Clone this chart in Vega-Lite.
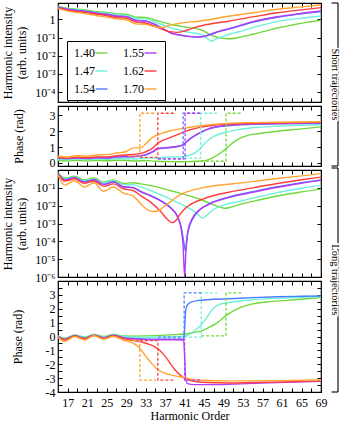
{
"$schema": "https://vega.github.io/schema/vega-lite/v6.json",
"padding": {"left": 1, "top": 1, "right": 3, "bottom": 2},
"config": {
  "font": "Liberation Serif",
  "view": {"stroke": "black", "strokeWidth": 1.2},
  "axis": {"labelFont": "Liberation Serif", "titleFont": "Liberation Serif", "labelFontSize": 12, "titleFontSize": 12, "titleFontWeight": "normal", "labelColor": "black", "titleColor": "black", "tickColor": "black", "tickWidth": 1, "domain": false, "grid": false, "tickSize": -4, "labelOverlap": false, "labelFlush": false, "labelBound": false, "labelPadding": 7}
},
"datasets": {
"a": [
{"s":"1.40","h":15,"v":5.25},{"s":"1.40","h":17,"v":3.98},{"s":"1.40","h":19,"v":3.55},{"s":"1.40","h":21,"v":3.16},{"s":"1.40","h":23,"v":2.63},{"s":"1.40","h":25,"v":2.4},{"s":"1.40","h":27,"v":2.0},{"s":"1.40","h":29,"v":1.91},{"s":"1.40","h":31,"v":1.32},{"s":"1.40","h":33,"v":1.26},{"s":"1.40","h":35,"v":0.891},{"s":"1.40","h":37,"v":0.631},{"s":"1.40","h":39,"v":0.468},{"s":"1.40","h":41,"v":0.38},{"s":"1.40","h":43,"v":0.316},{"s":"1.40","h":44.2,"v":0.275},{"s":"1.40","h":45.3,"v":0.2},{"s":"1.40","h":46.5,"v":0.132},{"s":"1.40","h":48,"v":0.1},{"s":"1.40","h":49.3,"v":0.0871},{"s":"1.40","h":50.3,"v":0.0851},{"s":"1.40","h":52,"v":0.1},{"s":"1.40","h":55,"v":0.151},{"s":"1.40","h":58,"v":0.24},{"s":"1.40","h":60,"v":0.331},{"s":"1.40","h":63,"v":0.479},{"s":"1.40","h":66,"v":0.676},{"s":"1.40","h":69,"v":0.891},
{"s":"1.47","h":15,"v":4.79},{"s":"1.47","h":17,"v":3.72},{"s":"1.47","h":19,"v":3.31},{"s":"1.47","h":21,"v":2.88},{"s":"1.47","h":23,"v":2.4},{"s":"1.47","h":25,"v":2.14},{"s":"1.47","h":27,"v":1.74},{"s":"1.47","h":29,"v":1.66},{"s":"1.47","h":31,"v":1.1},{"s":"1.47","h":33,"v":1.05},{"s":"1.47","h":35,"v":0.708},{"s":"1.47","h":37,"v":0.437},{"s":"1.47","h":38,"v":0.347},{"s":"1.47","h":40,"v":0.251},{"s":"1.47","h":42,"v":0.191},{"s":"1.47","h":44.2,"v":0.151},{"s":"1.47","h":45.5,"v":0.0955},{"s":"1.47","h":46.5,"v":0.0646},{"s":"1.47","h":47.5,"v":0.0832},{"s":"1.47","h":49,"v":0.12},{"s":"1.47","h":50.3,"v":0.155},{"s":"1.47","h":52,"v":0.2},{"s":"1.47","h":55,"v":0.347},{"s":"1.47","h":60,"v":0.741},{"s":"1.47","h":65,"v":1.15},{"s":"1.47","h":69,"v":1.51},
{"s":"1.54","h":15,"v":4.68},{"s":"1.54","h":17,"v":3.55},{"s":"1.54","h":19,"v":3.09},{"s":"1.54","h":21,"v":2.69},{"s":"1.54","h":23,"v":2.19},{"s":"1.54","h":25,"v":1.91},{"s":"1.54","h":27,"v":1.51},{"s":"1.54","h":29,"v":1.41},{"s":"1.54","h":31,"v":0.891},{"s":"1.54","h":33,"v":0.813},{"s":"1.54","h":35,"v":0.525},{"s":"1.54","h":37,"v":0.263},{"s":"1.54","h":38,"v":0.191},{"s":"1.54","h":40,"v":0.138},{"s":"1.54","h":42,"v":0.115},{"s":"1.54","h":44,"v":0.107},{"s":"1.54","h":45,"v":0.115},{"s":"1.54","h":46.5,"v":0.151},{"s":"1.54","h":48,"v":0.209},{"s":"1.54","h":50.3,"v":0.302},{"s":"1.54","h":55,"v":0.692},{"s":"1.54","h":60,"v":1.29},{"s":"1.54","h":65,"v":2.0},{"s":"1.54","h":69,"v":2.69},
{"s":"1.55","h":15,"v":4.57},{"s":"1.55","h":17,"v":3.47},{"s":"1.55","h":19,"v":3.02},{"s":"1.55","h":21,"v":2.63},{"s":"1.55","h":23,"v":2.14},{"s":"1.55","h":25,"v":1.86},{"s":"1.55","h":27,"v":1.48},{"s":"1.55","h":29,"v":1.38},{"s":"1.55","h":31,"v":0.871},{"s":"1.55","h":33,"v":0.794},{"s":"1.55","h":35,"v":0.501},{"s":"1.55","h":37,"v":0.251},{"s":"1.55","h":38,"v":0.182},{"s":"1.55","h":40,"v":0.135},{"s":"1.55","h":42,"v":0.112},{"s":"1.55","h":44,"v":0.107},{"s":"1.55","h":45,"v":0.117},{"s":"1.55","h":46.5,"v":0.158},{"s":"1.55","h":48,"v":0.219},{"s":"1.55","h":50.3,"v":0.316},{"s":"1.55","h":55,"v":0.741},{"s":"1.55","h":60,"v":1.38},{"s":"1.55","h":65,"v":2.14},{"s":"1.55","h":69,"v":2.88},
{"s":"1.62","h":15,"v":4.27},{"s":"1.62","h":17,"v":3.16},{"s":"1.62","h":19,"v":2.69},{"s":"1.62","h":21,"v":2.34},{"s":"1.62","h":23,"v":1.91},{"s":"1.62","h":25,"v":1.58},{"s":"1.62","h":27,"v":1.26},{"s":"1.62","h":29,"v":1.15},{"s":"1.62","h":31,"v":0.708},{"s":"1.62","h":33,"v":0.631},{"s":"1.62","h":35,"v":0.398},{"s":"1.62","h":37,"v":0.251},{"s":"1.62","h":38,"v":0.209},{"s":"1.62","h":39.5,"v":0.191},{"s":"1.62","h":41,"v":0.229},{"s":"1.62","h":43,"v":0.347},{"s":"1.62","h":44.2,"v":0.427},{"s":"1.62","h":47,"v":0.603},{"s":"1.62","h":50.3,"v":0.813},{"s":"1.62","h":55,"v":1.35},{"s":"1.62","h":60,"v":2.29},{"s":"1.62","h":65,"v":3.31},{"s":"1.62","h":69,"v":4.37},
{"s":"1.70","h":15,"v":3.89},{"s":"1.70","h":17,"v":2.82},{"s":"1.70","h":19,"v":2.34},{"s":"1.70","h":21,"v":2.0},{"s":"1.70","h":23,"v":1.58},{"s":"1.70","h":25,"v":1.32},{"s":"1.70","h":27,"v":1.05},{"s":"1.70","h":29,"v":0.933},{"s":"1.70","h":31,"v":0.562},{"s":"1.70","h":33,"v":0.525},{"s":"1.70","h":35,"v":0.38},{"s":"1.70","h":36.5,"v":0.355},{"s":"1.70","h":38,"v":0.479},{"s":"1.70","h":40,"v":0.603},{"s":"1.70","h":44.2,"v":0.813},{"s":"1.70","h":50.3,"v":1.51},{"s":"1.70","h":55,"v":2.29},{"s":"1.70","h":60,"v":3.55},{"s":"1.70","h":65,"v":4.79},{"s":"1.70","h":69,"v":6.17}
],
"b": [
{"s":"1.40","h":15,"v":0.15},{"s":"1.40","h":17,"v":0.12},{"s":"1.40","h":19,"v":0.16},{"s":"1.40","h":21,"v":0.12},{"s":"1.40","h":23,"v":0.16},{"s":"1.40","h":25,"v":0.13},{"s":"1.40","h":27,"v":0.16},{"s":"1.40","h":29,"v":0.15},{"s":"1.40","h":31,"v":0.12},{"s":"1.40","h":33,"v":0.15},{"s":"1.40","h":35,"v":0.1},{"s":"1.40","h":38,"v":0.08},{"s":"1.40","h":41,"v":0.07},{"s":"1.40","h":44,"v":0.1},{"s":"1.40","h":46,"v":0.2},{"s":"1.40","h":47.5,"v":0.45},{"s":"1.40","h":48.7,"v":0.7},{"s":"1.40","h":49.7,"v":0.95},{"s":"1.40","h":51,"v":1.3},{"s":"1.40","h":52.5,"v":1.58},{"s":"1.40","h":54,"v":1.74},{"s":"1.40","h":56,"v":1.84},{"s":"1.40","h":60,"v":2.0},{"s":"1.40","h":65,"v":2.15},{"s":"1.40","h":69,"v":2.28},
{"s":"1.47","h":15,"v":0.22},{"s":"1.47","h":17,"v":0.2},{"s":"1.47","h":19,"v":0.24},{"s":"1.47","h":21,"v":0.2},{"s":"1.47","h":23,"v":0.25},{"s":"1.47","h":25,"v":0.22},{"s":"1.47","h":27,"v":0.26},{"s":"1.47","h":29,"v":0.26},{"s":"1.47","h":31,"v":0.24},{"s":"1.47","h":33,"v":0.3},{"s":"1.47","h":35,"v":0.3},{"s":"1.47","h":38,"v":0.38},{"s":"1.47","h":40,"v":0.38},{"s":"1.47","h":42,"v":0.48},{"s":"1.47","h":43.3,"v":0.66},{"s":"1.47","h":44.3,"v":0.95},{"s":"1.47","h":45.5,"v":1.35},{"s":"1.47","h":47,"v":1.68},{"s":"1.47","h":49.7,"v":1.95},{"s":"1.47","h":52,"v":2.1},{"s":"1.47","h":56,"v":2.25},{"s":"1.47","h":60,"v":2.32},{"s":"1.47","h":65,"v":2.38},{"s":"1.47","h":69,"v":2.42},
{"s":"1.54","h":15,"v":0.28},{"s":"1.54","h":17,"v":0.26},{"s":"1.54","h":19,"v":0.3},{"s":"1.54","h":21,"v":0.27},{"s":"1.54","h":23,"v":0.32},{"s":"1.54","h":25,"v":0.3},{"s":"1.54","h":27,"v":0.36},{"s":"1.54","h":29,"v":0.38},{"s":"1.54","h":31,"v":0.4},{"s":"1.54","h":33,"v":0.5},{"s":"1.54","h":34.5,"v":0.7},{"s":"1.54","h":35.5,"v":0.9},{"s":"1.54","h":37,"v":0.93},{"s":"1.54","h":39,"v":1.0},{"s":"1.54","h":40.5,"v":1.1},{"s":"1.54","h":41.5,"v":1.35},{"s":"1.54","h":42.5,"v":1.6},{"s":"1.54","h":44.2,"v":1.9},{"s":"1.54","h":46,"v":2.15},{"s":"1.54","h":49.7,"v":2.35},{"s":"1.54","h":55,"v":2.44},{"s":"1.54","h":60,"v":2.47},{"s":"1.54","h":69,"v":2.5},
{"s":"1.55","h":15,"v":0.3},{"s":"1.55","h":17,"v":0.28},{"s":"1.55","h":19,"v":0.32},{"s":"1.55","h":21,"v":0.29},{"s":"1.55","h":23,"v":0.34},{"s":"1.55","h":25,"v":0.32},{"s":"1.55","h":27,"v":0.38},{"s":"1.55","h":29,"v":0.4},{"s":"1.55","h":31,"v":0.42},{"s":"1.55","h":33,"v":0.52},{"s":"1.55","h":34.5,"v":0.72},{"s":"1.55","h":35.5,"v":0.92},{"s":"1.55","h":37,"v":0.95},{"s":"1.55","h":39,"v":1.02},{"s":"1.55","h":40.5,"v":1.12},{"s":"1.55","h":41.5,"v":1.37},{"s":"1.55","h":42.5,"v":1.62},{"s":"1.55","h":44.2,"v":1.92},{"s":"1.55","h":46,"v":2.17},{"s":"1.55","h":49.7,"v":2.37},{"s":"1.55","h":55,"v":2.46},{"s":"1.55","h":60,"v":2.49},{"s":"1.55","h":69,"v":2.52},
{"s":"1.62","h":15,"v":0.33},{"s":"1.62","h":17,"v":0.3},{"s":"1.62","h":19,"v":0.35},{"s":"1.62","h":21,"v":0.32},{"s":"1.62","h":23,"v":0.38},{"s":"1.62","h":25,"v":0.38},{"s":"1.62","h":27,"v":0.45},{"s":"1.62","h":29,"v":0.5},{"s":"1.62","h":31,"v":0.55},{"s":"1.62","h":33,"v":0.7},{"s":"1.62","h":34.5,"v":0.95},{"s":"1.62","h":35.5,"v":1.25},{"s":"1.62","h":36.5,"v":1.42},{"s":"1.62","h":38,"v":1.6},{"s":"1.62","h":40,"v":1.85},{"s":"1.62","h":42,"v":2.08},{"s":"1.62","h":44.2,"v":2.25},{"s":"1.62","h":47,"v":2.38},{"s":"1.62","h":49.7,"v":2.45},{"s":"1.62","h":55,"v":2.5},{"s":"1.62","h":60,"v":2.53},{"s":"1.62","h":69,"v":2.56},
{"s":"1.70","h":15,"v":0.42},{"s":"1.70","h":17,"v":0.38},{"s":"1.70","h":19,"v":0.45},{"s":"1.70","h":21,"v":0.42},{"s":"1.70","h":23,"v":0.5},{"s":"1.70","h":25,"v":0.52},{"s":"1.70","h":27,"v":0.62},{"s":"1.70","h":29,"v":0.72},{"s":"1.70","h":30.5,"v":0.95},{"s":"1.70","h":32,"v":0.95},{"s":"1.70","h":33,"v":1.2},{"s":"1.70","h":34,"v":1.5},{"s":"1.70","h":35,"v":1.72},{"s":"1.70","h":36.5,"v":1.88},{"s":"1.70","h":38,"v":2.03},{"s":"1.70","h":40,"v":2.15},{"s":"1.70","h":44.2,"v":2.35},{"s":"1.70","h":49.7,"v":2.5},{"s":"1.70","h":55,"v":2.55},{"s":"1.70","h":60,"v":2.57},{"s":"1.70","h":69,"v":2.6}
],
"bd": [
{"s":"1.40","i":1,"h":44.3,"v":0.1},{"s":"1.40","i":2,"h":49.5,"v":0.1},{"s":"1.40","i":3,"h":49.5,"v":3.1416},{"s":"1.40","i":4,"h":52.8,"v":3.1416},
{"s":"1.47","i":1,"h":40.9,"v":0.3},{"s":"1.47","i":2,"h":44.3,"v":0.3},{"s":"1.47","i":3,"h":44.3,"v":3.1416},{"s":"1.47","i":4,"h":47.6,"v":3.1416},
{"s":"1.54","i":1,"h":35.5,"v":0.25},{"s":"1.54","i":2,"h":40.7,"v":0.25},{"s":"1.54","i":3,"h":40.7,"v":3.1416},{"s":"1.54","i":4,"h":44.0,"v":3.1416},
{"s":"1.55","i":1,"h":35.5,"v":0.25},{"s":"1.55","i":2,"h":41.1,"v":0.25},{"s":"1.55","i":3,"h":41.1,"v":3.1416},{"s":"1.55","i":4,"h":44.4,"v":3.1416},
{"s":"1.62","i":1,"h":31.8,"v":0.35},{"s":"1.62","i":2,"h":35.5,"v":0.35},{"s":"1.62","i":3,"h":35.5,"v":3.1416},{"s":"1.62","i":4,"h":38.8,"v":3.1416},
{"s":"1.70","i":1,"h":29.5,"v":0.45},{"s":"1.70","i":2,"h":31.8,"v":0.45},{"s":"1.70","i":3,"h":31.8,"v":3.1416},{"s":"1.70","i":4,"h":35.1,"v":3.1416}
],
"c": [
{"s":"1.40","h":15,"v":0.708},{"s":"1.40","h":16.4,"v":0.355},{"s":"1.40","h":18.4,"v":0.447},{"s":"1.40","h":20.4,"v":0.282},{"s":"1.40","h":22.4,"v":0.355},{"s":"1.40","h":24.4,"v":0.214},{"s":"1.40","h":26.4,"v":0.275},{"s":"1.40","h":28.4,"v":0.178},{"s":"1.40","h":30.4,"v":0.191},{"s":"1.40","h":32,"v":0.166},{"s":"1.40","h":34,"v":0.132},{"s":"1.40","h":36,"v":0.1},{"s":"1.40","h":38,"v":0.0708},{"s":"1.40","h":40,"v":0.0501},{"s":"1.40","h":42,"v":0.0355},{"s":"1.40","h":44,"v":0.024},{"s":"1.40","h":46,"v":0.0141},{"s":"1.40","h":48,"v":0.0087},{"s":"1.40","h":49.3,"v":0.00708},{"s":"1.40","h":50.5,"v":0.00832},{"s":"1.40","h":52,"v":0.011},{"s":"1.40","h":55,"v":0.0174},{"s":"1.40","h":60,"v":0.0347},{"s":"1.40","h":65,"v":0.0589},{"s":"1.40","h":69,"v":0.0851},
{"s":"1.47","h":15,"v":0.661},{"s":"1.47","h":16.4,"v":0.316},{"s":"1.47","h":18.4,"v":0.398},{"s":"1.47","h":20.4,"v":0.251},{"s":"1.47","h":22.4,"v":0.316},{"s":"1.47","h":24.4,"v":0.191},{"s":"1.47","h":26.4,"v":0.251},{"s":"1.47","h":28.4,"v":0.151},{"s":"1.47","h":30.4,"v":0.151},{"s":"1.47","h":32,"v":0.112},{"s":"1.47","h":34,"v":0.0708},{"s":"1.47","h":36,"v":0.0417},{"s":"1.47","h":38,"v":0.024},{"s":"1.47","h":40,"v":0.0132},{"s":"1.47","h":42,"v":0.00708},{"s":"1.47","h":43.5,"v":0.0038},{"s":"1.47","h":44.7,"v":0.002},{"s":"1.47","h":45.7,"v":0.00316},{"s":"1.47","h":47,"v":0.00631},{"s":"1.47","h":49,"v":0.0107},{"s":"1.47","h":52,"v":0.017},{"s":"1.47","h":55,"v":0.0263},{"s":"1.47","h":60,"v":0.0537},{"s":"1.47","h":65,"v":0.0955},{"s":"1.47","h":69,"v":0.138},
{"s":"1.54","h":15,"v":0.646},{"s":"1.54","h":16.4,"v":0.288},{"s":"1.54","h":18.4,"v":0.372},{"s":"1.54","h":20.4,"v":0.219},{"s":"1.54","h":22.4,"v":0.288},{"s":"1.54","h":24.4,"v":0.158},{"s":"1.54","h":26.4,"v":0.219},{"s":"1.54","h":28.4,"v":0.117},{"s":"1.54","h":30.4,"v":0.105},{"s":"1.54","h":32,"v":0.0631},{"s":"1.54","h":34,"v":0.0372},{"s":"1.54","h":36,"v":0.02},{"s":"1.54","h":38,"v":0.00832},{"s":"1.54","h":39.5,"v":0.00263},{"s":"1.54","h":40.3,"v":0.000631},{"s":"1.54","h":40.8,"v":0.0001},{"s":"1.54","h":41.2,"v":0.0000282},{"s":"1.54","h":41.6,"v":0.000251},{"s":"1.54","h":42.2,"v":0.001},{"s":"1.54","h":43,"v":0.00251},{"s":"1.54","h":44,"v":0.00562},{"s":"1.54","h":46,"v":0.0126},{"s":"1.54","h":50,"v":0.0302},{"s":"1.54","h":55,"v":0.0603},{"s":"1.54","h":60,"v":0.115},{"s":"1.54","h":65,"v":0.195},{"s":"1.54","h":69,"v":0.282},
{"s":"1.55","h":15,"v":0.631},{"s":"1.55","h":16.4,"v":0.275},{"s":"1.55","h":18.4,"v":0.355},{"s":"1.55","h":20.4,"v":0.209},{"s":"1.55","h":22.4,"v":0.275},{"s":"1.55","h":24.4,"v":0.151},{"s":"1.55","h":26.4,"v":0.209},{"s":"1.55","h":28.4,"v":0.112},{"s":"1.55","h":30.4,"v":0.1},{"s":"1.55","h":32,"v":0.0603},{"s":"1.55","h":34,"v":0.0355},{"s":"1.55","h":36,"v":0.0191},{"s":"1.55","h":38,"v":0.00794},{"s":"1.55","h":39.5,"v":0.00251},{"s":"1.55","h":40.3,"v":0.000501},{"s":"1.55","h":40.7,"v":0.0000501},{"s":"1.55","h":41,"v":0.000001},{"s":"1.55","h":41.3,"v":0.0000501},{"s":"1.55","h":41.7,"v":0.000398},{"s":"1.55","h":42.5,"v":0.00178},{"s":"1.55","h":44,"v":0.00562},{"s":"1.55","h":46,"v":0.012},{"s":"1.55","h":50,"v":0.0282},{"s":"1.55","h":55,"v":0.0562},{"s":"1.55","h":60,"v":0.107},{"s":"1.55","h":65,"v":0.182},{"s":"1.55","h":69,"v":0.263},
{"s":"1.62","h":15,"v":0.603},{"s":"1.62","h":16.4,"v":0.24},{"s":"1.62","h":18.4,"v":0.316},{"s":"1.62","h":20.4,"v":0.178},{"s":"1.62","h":22.4,"v":0.24},{"s":"1.62","h":24.4,"v":0.12},{"s":"1.62","h":26.4,"v":0.166},{"s":"1.62","h":28.4,"v":0.0891},{"s":"1.62","h":30.4,"v":0.0708},{"s":"1.62","h":32,"v":0.0355},{"s":"1.62","h":34,"v":0.0158},{"s":"1.62","h":36,"v":0.00501},{"s":"1.62","h":37.5,"v":0.00166},{"s":"1.62","h":38.5,"v":0.00112},{"s":"1.62","h":39.3,"v":0.00158},{"s":"1.62","h":40,"v":0.00316},{"s":"1.62","h":41,"v":0.0066},{"s":"1.62","h":42,"v":0.0107},{"s":"1.62","h":45,"v":0.0251},{"s":"1.62","h":50,"v":0.0562},{"s":"1.62","h":55,"v":0.1},{"s":"1.62","h":60,"v":0.174},{"s":"1.62","h":65,"v":0.282},{"s":"1.62","h":69,"v":0.398},
{"s":"1.70","h":15,"v":0.525},{"s":"1.70","h":16.4,"v":0.141},{"s":"1.70","h":18.4,"v":0.251},{"s":"1.70","h":20.4,"v":0.112},{"s":"1.70","h":22.4,"v":0.191},{"s":"1.70","h":24.4,"v":0.0631},{"s":"1.70","h":26.4,"v":0.112},{"s":"1.70","h":28.4,"v":0.0501},{"s":"1.70","h":30.4,"v":0.0355},{"s":"1.70","h":32,"v":0.0126},{"s":"1.70","h":33.5,"v":0.00562},{"s":"1.70","h":34.5,"v":0.00468},{"s":"1.70","h":35.5,"v":0.00501},{"s":"1.70","h":37,"v":0.01},{"s":"1.70","h":38,"v":0.0158},{"s":"1.70","h":40,"v":0.0398},{"s":"1.70","h":42,"v":0.0661},{"s":"1.70","h":45,"v":0.105},{"s":"1.70","h":50,"v":0.158},{"s":"1.70","h":55,"v":0.224},{"s":"1.70","h":60,"v":0.331},{"s":"1.70","h":65,"v":0.468},{"s":"1.70","h":69,"v":0.631}
],
"d": [
{"s":"1.40","h":15,"v":0.05},{"s":"1.40","h":16.4,"v":-0.12},{"s":"1.40","h":18.4,"v":0.12},{"s":"1.40","h":20.4,"v":-0.05},{"s":"1.40","h":22.4,"v":0.15},{"s":"1.40","h":24.4,"v":0.0},{"s":"1.40","h":26.4,"v":0.15},{"s":"1.40","h":28.4,"v":0.04},{"s":"1.40","h":31,"v":0.03},{"s":"1.40","h":35,"v":0.06},{"s":"1.40","h":38,"v":0.12},{"s":"1.40","h":41,"v":0.18},{"s":"1.40","h":43,"v":0.3},{"s":"1.40","h":44.7,"v":0.43},{"s":"1.40","h":46,"v":0.65},{"s":"1.40","h":47.5,"v":0.95},{"s":"1.40","h":49.5,"v":1.5},{"s":"1.40","h":51,"v":1.85},{"s":"1.40","h":52.5,"v":2.1},{"s":"1.40","h":55,"v":2.35},{"s":"1.40","h":58,"v":2.5},{"s":"1.40","h":62,"v":2.6},{"s":"1.40","h":66,"v":2.72},{"s":"1.40","h":69,"v":2.8},
{"s":"1.47","h":15,"v":0.03},{"s":"1.47","h":16.4,"v":-0.15},{"s":"1.47","h":18.4,"v":0.1},{"s":"1.47","h":20.4,"v":-0.08},{"s":"1.47","h":22.4,"v":0.13},{"s":"1.47","h":24.4,"v":-0.03},{"s":"1.47","h":26.4,"v":0.13},{"s":"1.47","h":28.4,"v":0.0},{"s":"1.47","h":31,"v":-0.05},{"s":"1.47","h":35,"v":-0.05},{"s":"1.47","h":38,"v":-0.02},{"s":"1.47","h":41,"v":0.02},{"s":"1.47","h":42,"v":0.15},{"s":"1.47","h":43,"v":0.4},{"s":"1.47","h":44.4,"v":0.85},{"s":"1.47","h":45.5,"v":1.35},{"s":"1.47","h":46.8,"v":2.0},{"s":"1.47","h":48,"v":2.3},{"s":"1.47","h":50,"v":2.45},{"s":"1.47","h":55,"v":2.65},{"s":"1.47","h":60,"v":2.75},{"s":"1.47","h":65,"v":2.83},{"s":"1.47","h":69,"v":2.88},
{"s":"1.54","h":15,"v":0.0},{"s":"1.54","h":16.4,"v":-0.2},{"s":"1.54","h":18.4,"v":0.06},{"s":"1.54","h":20.4,"v":-0.13},{"s":"1.54","h":22.4,"v":0.1},{"s":"1.54","h":24.4,"v":-0.08},{"s":"1.54","h":26.4,"v":0.1},{"s":"1.54","h":28.4,"v":-0.08},{"s":"1.54","h":31,"v":-0.15},{"s":"1.54","h":35,"v":-0.2},{"s":"1.54","h":38,"v":-0.2},{"s":"1.54","h":40.8,"v":-0.2},{"s":"1.54","h":41,"v":0.5},{"s":"1.54","h":41.2,"v":1.8},{"s":"1.54","h":41.5,"v":2.25},{"s":"1.54","h":42.3,"v":2.48},{"s":"1.54","h":44,"v":2.6},{"s":"1.54","h":47,"v":2.68},{"s":"1.54","h":50,"v":2.72},{"s":"1.54","h":55,"v":2.8},{"s":"1.54","h":60,"v":2.86},{"s":"1.54","h":65,"v":2.9},{"s":"1.54","h":69,"v":2.92},
{"s":"1.55","h":15,"v":-0.02},{"s":"1.55","h":16.4,"v":-0.22},{"s":"1.55","h":18.4,"v":0.04},{"s":"1.55","h":20.4,"v":-0.15},{"s":"1.55","h":22.4,"v":0.08},{"s":"1.55","h":24.4,"v":-0.1},{"s":"1.55","h":26.4,"v":0.08},{"s":"1.55","h":28.4,"v":-0.1},{"s":"1.55","h":31,"v":-0.18},{"s":"1.55","h":35,"v":-0.23},{"s":"1.55","h":38,"v":-0.24},{"s":"1.55","h":40.8,"v":-0.25},{"s":"1.55","h":41,"v":-1.5},{"s":"1.55","h":41.2,"v":-3.0},{"s":"1.55","h":41.6,"v":-3.4},{"s":"1.55","h":43,"v":-3.47},{"s":"1.55","h":48,"v":-3.47},{"s":"1.55","h":55,"v":-3.38},{"s":"1.55","h":62,"v":-3.3},{"s":"1.55","h":69,"v":-3.22},
{"s":"1.62","h":15,"v":-0.02},{"s":"1.62","h":16.4,"v":-0.25},{"s":"1.62","h":18.4,"v":0.04},{"s":"1.62","h":20.4,"v":-0.16},{"s":"1.62","h":22.4,"v":0.08},{"s":"1.62","h":24.4,"v":-0.12},{"s":"1.62","h":26.4,"v":0.06},{"s":"1.62","h":28.4,"v":-0.15},{"s":"1.62","h":30,"v":-0.25},{"s":"1.62","h":31.8,"v":-0.36},{"s":"1.62","h":34,"v":-0.6},{"s":"1.62","h":35.2,"v":-0.82},{"s":"1.62","h":36.6,"v":-1.25},{"s":"1.62","h":37.9,"v":-1.86},{"s":"1.62","h":39,"v":-2.4},{"s":"1.62","h":40.7,"v":-2.95},{"s":"1.62","h":42.5,"v":-3.2},{"s":"1.62","h":44.5,"v":-3.3},{"s":"1.62","h":50,"v":-3.35},{"s":"1.62","h":55,"v":-3.32},{"s":"1.62","h":62,"v":-3.27},{"s":"1.62","h":69,"v":-3.2},
{"s":"1.70","h":15,"v":-0.05},{"s":"1.70","h":16.4,"v":-0.35},{"s":"1.70","h":18.4,"v":0.0},{"s":"1.70","h":20.4,"v":-0.25},{"s":"1.70","h":22.4,"v":0.05},{"s":"1.70","h":24.4,"v":-0.2},{"s":"1.70","h":26.4,"v":0.0},{"s":"1.70","h":28.4,"v":-0.25},{"s":"1.70","h":29.5,"v":-0.35},{"s":"1.70","h":31,"v":-0.6},{"s":"1.70","h":31.8,"v":-0.85},{"s":"1.70","h":33,"v":-1.4},{"s":"1.70","h":34,"v":-1.85},{"s":"1.70","h":35.2,"v":-2.3},{"s":"1.70","h":36.6,"v":-2.6},{"s":"1.70","h":38,"v":-2.75},{"s":"1.70","h":40,"v":-2.9},{"s":"1.70","h":42,"v":-3.05},{"s":"1.70","h":44.5,"v":-3.15},{"s":"1.70","h":50,"v":-3.2},{"s":"1.70","h":60,"v":-3.18},{"s":"1.70","h":69,"v":-3.13}
],
"dd": [
{"s":"1.40","i":1,"h":44.4,"v":0.05},{"s":"1.40","i":2,"h":49.5,"v":0.05},{"s":"1.40","i":3,"h":49.5,"v":3.1416},{"s":"1.40","i":4,"h":52.8,"v":3.1416},
{"s":"1.47","i":1,"h":40.9,"v":-0.05},{"s":"1.47","i":2,"h":44.4,"v":-0.05},{"s":"1.47","i":3,"h":44.4,"v":3.1416},{"s":"1.47","i":4,"h":47.7,"v":3.1416},
{"s":"1.54","i":1,"h":35.5,"v":-0.05},{"s":"1.54","i":2,"h":40.9,"v":-0.05},{"s":"1.54","i":3,"h":40.9,"v":3.1416},{"s":"1.54","i":4,"h":44.4,"v":3.1416},
{"s":"1.55","i":1,"h":35.5,"v":-0.2},{"s":"1.55","i":2,"h":41.0,"v":-0.2},{"s":"1.55","i":3,"h":41.0,"v":-3.1416},{"s":"1.55","i":4,"h":44.3,"v":-3.1416},
{"s":"1.62","i":1,"h":31.8,"v":-0.3},{"s":"1.62","i":2,"h":35.5,"v":-0.3},{"s":"1.62","i":3,"h":35.5,"v":-3.1416},{"s":"1.62","i":4,"h":38.8,"v":-3.1416},
{"s":"1.70","i":1,"h":28.4,"v":-0.3},{"s":"1.70","i":2,"h":31.8,"v":-0.3},{"s":"1.70","i":3,"h":31.8,"v":-3.1416},{"s":"1.70","i":4,"h":35.1,"v":-3.1416}
]
},
"hconcat": [
 {"vconcat": [
   {"width": 263, "height": 99, "data": {"name": "a"},
    "layer": [
     {"mark": {"type": "line", "interpolate": "monotone", "strokeWidth": 1.4, "clip": true},
      "encoding": {
       "x": {"field": "h", "type": "quantitative", "scale": {"domain": [15, 69], "nice": false, "zero": false}, "axis": {"orient": "bottom", "values": [17,19,21,23,25,27,29,31,33,35,37,39,41,43,45,47,49,51,53,55,57,59,61,63,65,67,69], "labels": false, "title": null}},
       "y": {"field": "v", "type": "quantitative", "scale": {"type": "log", "domain": [2.86e-5, 7.87], "nice": false}, "axis": {"orient": "left", "values": [0.0001, 0.001, 0.01, 0.1, 1], "labelExpr": "['1','10\u207b\u00b9','10\u207b\u00b2','10\u207b\u00b3','10\u207b\u2074','10\u207b\u2075','10\u207b\u2076'][round(-log(datum.value)/LN10)]", "title": ["Harmonic intensity", "(arb. units)"], "titlePadding": 6}},
       "color": {"field": "s", "type": "nominal", "scale": {"domain": ["1.40","1.47","1.54","1.55","1.62","1.70"], "range": ["#72d83a","#6ff0d8","#4c7dff","#b03cf5","#ff3d3d","#ffa530"]},
        "legend": {"orient": "none", "legendX": 9, "legendY": 38, "columns": 2, "title": null, "symbolType": "stroke", "symbolSize": 144, "symbolStrokeWidth": 1.4, "labelAlign": "left", "labelOffset": -34.5, "symbolOffset": 22.5, "labelFontSize": 12, "labelFont": "Liberation Serif", "labelColor": "black", "strokeColor": "black", "fillColor": "white", "padding": 5, "rowPadding": 5, "columnPadding": 10}}
      }},
     {"mark": {"type": "line", "strokeOpacity": 0},
      "encoding": {
       "x": {"field": "h", "type": "quantitative", "axis": {"orient": "top", "values": [17,19,21,23,25,27,29,31,33,35,37,39,41,43,45,47,49,51,53,55,57,59,61,63,65,67,69], "labels": false, "title": null}},
       "y": {"field": "v", "type": "quantitative", "axis": {"orient": "right", "values": [0.0001, 0.001, 0.01, 0.1, 1], "labels": false, "title": null}}
      }}
    ],
    "resolve": {"axis": {"x": "independent", "y": "independent"}}
   },
   {"width": 263, "height": 60,
    "layer": [
     {"data": {"name": "b"}, "mark": {"type": "line", "interpolate": "monotone", "strokeWidth": 1.4, "clip": true},
      "encoding": {
       "x": {"field": "h", "type": "quantitative", "scale": {"domain": [15, 69], "nice": false, "zero": false}, "axis": {"orient": "bottom", "values": [17,19,21,23,25,27,29,31,33,35,37,39,41,43,45,47,49,51,53,55,57,59,61,63,65,67,69], "labels": false, "title": null}},
       "y": {"field": "v", "type": "quantitative", "scale": {"domain": [-0.2, 3.6], "nice": false, "zero": false}, "axis": {"orient": "left", "values": [0, 1, 2, 3], "title": "Phase (rad)", "titlePadding": 24}},
       "color": {"field": "s", "type": "nominal", "scale": {"domain": ["1.40","1.47","1.54","1.55","1.62","1.70"], "range": ["#72d83a","#6ff0d8","#4c7dff","#b03cf5","#ff3d3d","#ffa530"]}}
      }},
     {"data": {"name": "bd"}, "mark": {"type": "line", "strokeWidth": 1.3, "strokeDash": [3, 2], "clip": true},
      "encoding": {
       "x": {"field": "h", "type": "quantitative", "axis": {"orient": "top", "values": [17,19,21,23,25,27,29,31,33,35,37,39,41,43,45,47,49,51,53,55,57,59,61,63,65,67,69], "labels": false, "title": null}},
       "y": {"field": "v", "type": "quantitative", "axis": {"orient": "right", "values": [0, 1, 2, 3], "labels": false, "title": null}},
       "color": {"field": "s", "type": "nominal"},
       "order": {"field": "i"}
      }}
    ],
    "resolve": {"axis": {"x": "independent", "y": "independent"}}
   },
   {"width": 263, "height": 107, "data": {"name": "c"},
    "layer": [
     {"mark": {"type": "line", "interpolate": "monotone", "strokeWidth": 1.4, "clip": true},
      "encoding": {
       "x": {"field": "h", "type": "quantitative", "scale": {"domain": [15, 69], "nice": false, "zero": false}, "axis": {"orient": "bottom", "values": [17,19,21,23,25,27,29,31,33,35,37,39,41,43,45,47,49,51,53,55,57,59,61,63,65,67,69], "labels": false, "title": null}},
       "y": {"field": "v", "type": "quantitative", "scale": {"type": "log", "domain": [0.000001, 1], "nice": false}, "axis": {"orient": "left", "values": [0.000001, 0.00001, 0.0001, 0.001, 0.01, 0.1], "labelExpr": "['1','10\u207b\u00b9','10\u207b\u00b2','10\u207b\u00b3','10\u207b\u2074','10\u207b\u2075','10\u207b\u2076'][round(-log(datum.value)/LN10)]", "title": ["Harmonic intensity", "(arb. units)"], "titlePadding": 6}},
       "color": {"field": "s", "type": "nominal", "scale": {"domain": ["1.40","1.47","1.54","1.55","1.62","1.70"], "range": ["#72d83a","#6ff0d8","#4c7dff","#b03cf5","#ff3d3d","#ffa530"]}}
      }},
     {"mark": {"type": "line", "strokeOpacity": 0},
      "encoding": {
       "x": {"field": "h", "type": "quantitative", "axis": {"orient": "top", "values": [17,19,21,23,25,27,29,31,33,35,37,39,41,43,45,47,49,51,53,55,57,59,61,63,65,67,69], "labels": false, "title": null}},
       "y": {"field": "v", "type": "quantitative", "axis": {"orient": "right", "values": [0.000001, 0.00001, 0.0001, 0.001, 0.01, 0.1], "labels": false, "title": null}}
      }}
    ],
    "resolve": {"axis": {"x": "independent", "y": "independent"}}
   },
   {"width": 263, "height": 111,
    "layer": [
     {"data": {"name": "d"}, "mark": {"type": "line", "interpolate": "monotone", "strokeWidth": 1.4, "clip": true},
      "encoding": {
       "x": {"field": "h", "type": "quantitative", "scale": {"domain": [15, 69], "nice": false, "zero": false}, "axis": {"orient": "bottom", "values": [17,19,21,23,25,27,29,31,33,35,37,39,41,43,45,47,49,51,53,55,57,59,61,63,65,67,69], "labelExpr": "(datum.value - 17) % 4 == 0 ? datum.value + '' : ''", "labelPadding": 9, "title": "Harmonic Order", "titlePadding": 2}},
       "y": {"field": "v", "type": "quantitative", "scale": {"domain": [-4, 4], "nice": false, "zero": false}, "axis": {"orient": "left", "values": [-4,-3.5,-3,-2.5,-2,-1.5,-1,-0.5,0,0.5,1,1.5,2,2.5,3,3.5], "labelExpr": "datum.value % 1 == 0 ? datum.value + '' : ''", "title": "Phase (rad)", "titlePadding": 21}},
       "color": {"field": "s", "type": "nominal", "scale": {"domain": ["1.40","1.47","1.54","1.55","1.62","1.70"], "range": ["#72d83a","#6ff0d8","#4c7dff","#b03cf5","#ff3d3d","#ffa530"]}}
      }},
     {"data": {"name": "dd"}, "mark": {"type": "line", "strokeWidth": 1.3, "strokeDash": [3, 2], "clip": true},
      "encoding": {
       "x": {"field": "h", "type": "quantitative", "axis": {"orient": "top", "values": [17,19,21,23,25,27,29,31,33,35,37,39,41,43,45,47,49,51,53,55,57,59,61,63,65,67,69], "labels": false, "title": null}},
       "y": {"field": "v", "type": "quantitative", "axis": {"orient": "right", "values": [-4,-3.5,-3,-2.5,-2,-1.5,-1,-0.5,0,0.5,1,1.5,2,2.5,3,3.5], "labels": false, "title": null}},
       "color": {"field": "s", "type": "nominal"},
       "order": {"field": "i"}
      }}
    ],
    "resolve": {"axis": {"x": "independent", "y": "independent"}}
   }
 ], "spacing": 4, "bounds": "flush"},
 {"vconcat": [
  {"width": 10, "height": 163, "view": {"stroke": null},
   "data": {"values": [{"t": "Short trajectories"}]},
   "layer": [
    {"mark": {"type": "rule", "color": "black", "strokeWidth": 1.1},
     "encoding": {"x": {"datum": 0.8, "type": "quantitative", "scale": {"domain": [0, 1]}, "axis": null}, "y": {"datum": 0, "type": "quantitative", "scale": {"domain": [0, 1]}, "axis": null}, "y2": {"datum": 1}}},
    {"mark": {"type": "rule", "color": "black", "strokeWidth": 1.1},
     "encoding": {"x": {"datum": 0.15, "type": "quantitative"}, "x2": {"datum": 0.8}, "y": {"datum": 0, "type": "quantitative"}}},
    {"mark": {"type": "rule", "color": "black", "strokeWidth": 1.1},
     "encoding": {"x": {"datum": 0.15, "type": "quantitative"}, "x2": {"datum": 0.8}, "y": {"datum": 1, "type": "quantitative"}}},
    {"mark": {"type": "text", "angle": 90, "font": "Liberation Serif", "fontSize": 10.5, "fill": "white", "stroke": "white", "strokeWidth": 3, "align": "center", "baseline": "middle"},
     "encoding": {"x": {"datum": 0.5, "type": "quantitative"}, "y": {"datum": 0.5, "type": "quantitative"}, "text": {"field": "t"}}},
    {"mark": {"type": "text", "angle": 90, "font": "Liberation Serif", "fontSize": 10.5, "fill": "black", "align": "center", "baseline": "middle"},
     "encoding": {"x": {"datum": 0.5, "type": "quantitative"}, "y": {"datum": 0.5, "type": "quantitative"}, "text": {"field": "t"}}}
   ]},
  {"width": 10, "height": 224, "view": {"stroke": null},
   "data": {"values": [{"t": "Long trajectories"}]},
   "layer": [
    {"mark": {"type": "rule", "color": "black", "strokeWidth": 1.1},
     "encoding": {"x": {"datum": 0.8, "type": "quantitative", "scale": {"domain": [0, 1]}, "axis": null}, "y": {"datum": 0, "type": "quantitative", "scale": {"domain": [0, 1]}, "axis": null}, "y2": {"datum": 1}}},
    {"mark": {"type": "rule", "color": "black", "strokeWidth": 1.1},
     "encoding": {"x": {"datum": 0.15, "type": "quantitative"}, "x2": {"datum": 0.8}, "y": {"datum": 0, "type": "quantitative"}}},
    {"mark": {"type": "rule", "color": "black", "strokeWidth": 1.1},
     "encoding": {"x": {"datum": 0.15, "type": "quantitative"}, "x2": {"datum": 0.8}, "y": {"datum": 1, "type": "quantitative"}}},
    {"mark": {"type": "text", "angle": 90, "font": "Liberation Serif", "fontSize": 10.5, "fill": "white", "stroke": "white", "strokeWidth": 3, "align": "center", "baseline": "middle"},
     "encoding": {"x": {"datum": 0.5, "type": "quantitative"}, "y": {"datum": 0.5, "type": "quantitative"}, "text": {"field": "t"}}},
    {"mark": {"type": "text", "angle": 90, "font": "Liberation Serif", "fontSize": 10.5, "fill": "black", "align": "center", "baseline": "middle"},
     "encoding": {"x": {"datum": 0.5, "type": "quantitative"}, "y": {"datum": 0.5, "type": "quantitative"}, "text": {"field": "t"}}}
   ]}
 ], "spacing": 2, "bounds": "flush"}
],
"spacing": 1
}
